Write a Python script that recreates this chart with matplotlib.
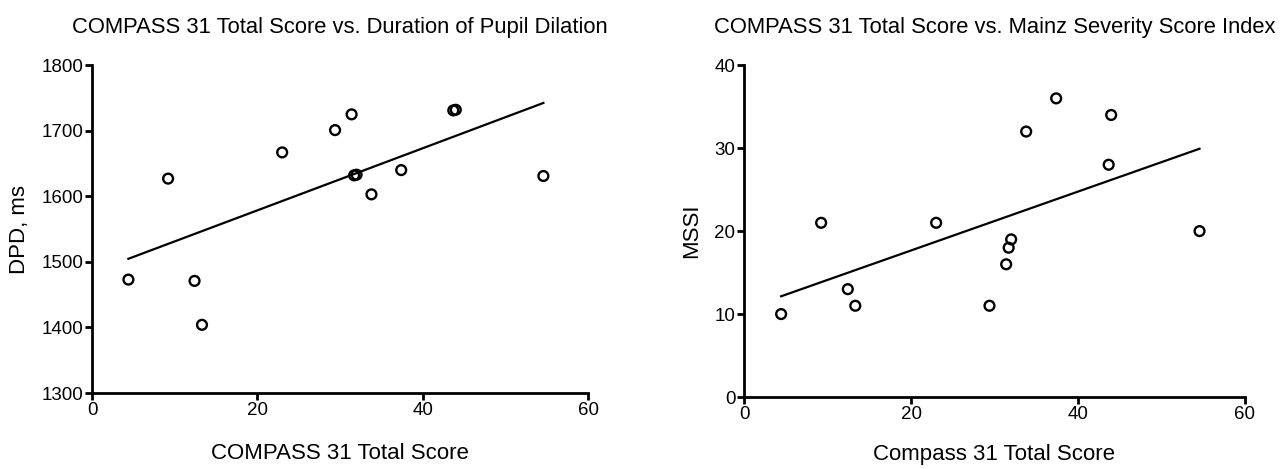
import numpy as np
import matplotlib
matplotlib.use("Agg")
import matplotlib.pyplot as plt

plt.rcParams['font.family'] = ['Liberation Sans', 'DejaVu Sans']

compass = [4.4, 9.2, 12.4, 13.3, 23.0, 29.4, 31.4, 31.7, 32.0, 33.8, 37.4, 43.7, 44.0, 54.6]
dpd = [1473, 1627, 1471, 1404, 1667, 1701, 1725, 1632, 1633, 1603, 1640, 1731, 1732, 1631]
mssi = [10, 21, 13, 11, 21, 11, 16, 18, 19, 32, 36, 28, 34, 20]

x_ticks = [0, 20, 40, 60]
dpd_ticks = [1300, 1400, 1500, 1600, 1700, 1800]
mssi_ticks = [0, 10, 20, 30, 40]

fig = plt.figure(figsize=(12.8, 4.69), dpi=100)
ax1 = fig.add_axes([0.0719, 0.162, 0.3875, 0.699])
ax2 = fig.add_axes([0.5816, 0.1535, 0.3907, 0.7075])


def style(ax):
    for s in ['top', 'right']:
        ax.spines[s].set_visible(False)
    for s in ['left', 'bottom']:
        ax.spines[s].set_linewidth(2.0)
    ax.tick_params(direction='out', length=5, width=2.0, labelsize=13.5, pad=1.5)


def panel(ax, x, y, yticks, title, xlabel, ylabel, xlabel_pad, ylabel_pad):
    x = np.asarray(x, float)
    y = np.asarray(y, float)
    ax.scatter(x, y, s=50, facecolors='none', edgecolors='black', linewidths=1.7, zorder=3, clip_on=False)
    m, b = np.polyfit(x, y, 1)
    xs = np.array([x.min(), x.max()])
    ax.plot(xs, m * xs + b, color='black', lw=1.6)
    ax.set_xlim(x_ticks[0], x_ticks[-1])
    ax.set_ylim(yticks[0], yticks[-1])
    ax.set_xticks(x_ticks)
    ax.set_yticks(yticks)
    ax.set_title(title, fontsize=15.8, pad=23)
    ax.set_xlabel(xlabel, fontsize=16, labelpad=xlabel_pad)
    ax.set_ylabel(ylabel, fontsize=16, labelpad=ylabel_pad)
    style(ax)


panel(ax1, compass, dpd, dpd_ticks,
      'COMPASS 31 Total Score vs. Duration of Pupil Dilation',
      'COMPASS 31 Total Score', 'DPD, ms', 17, 8)
panel(ax2, compass, mssi, mssi_ticks,
      'COMPASS 31 Total Score vs. Mainz Severity Score Index',
      'Compass 31 Total Score', 'MSSI', 15, 9)

fig.savefig('out.png', dpi=100)
